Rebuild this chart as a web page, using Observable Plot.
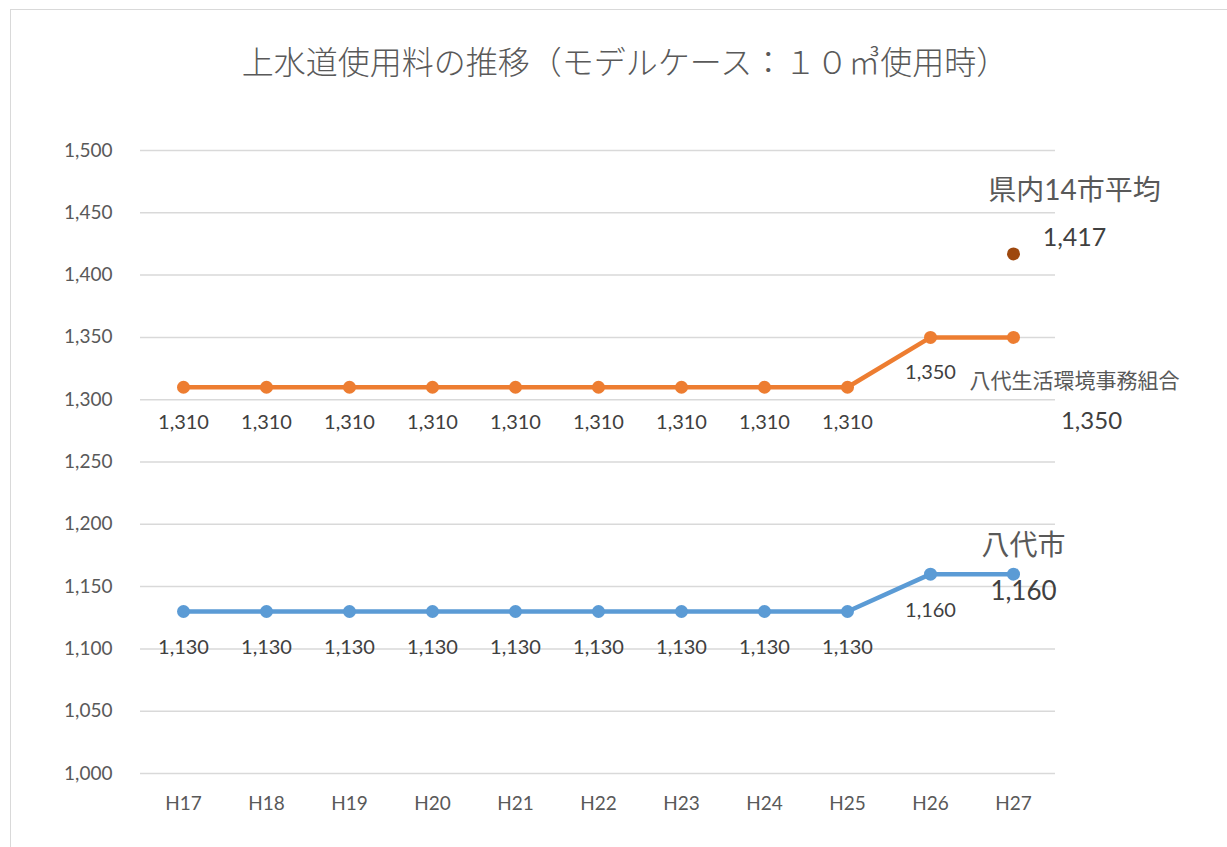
<!DOCTYPE html>
<html><head><meta charset="utf-8">
<script src="https://cdn.jsdelivr.net/npm/d3@7"></script>
<script src="https://cdn.jsdelivr.net/npm/@observablehq/plot@0.6"></script>
<style>
body{margin:0;background:#fff;font-family:Lato,"Noto Sans CJK JP",sans-serif;}
#wrap{position:relative;width:1227px;height:847px;overflow:hidden;}
#frame{position:absolute;left:10px;top:9px;width:1240px;height:860px;border:1.5px solid #d9d9d9;box-sizing:border-box;}
#title{position:absolute;top:37px;left:625px;transform:translateX(-50%);white-space:nowrap;font-size:32px;line-height:46px;color:#595959;font-family:"Noto Sans CJK JP",sans-serif;font-weight:300;}
#chart{position:absolute;left:0;top:100px;}
</style></head>
<body><div id="wrap"><div id="frame"></div><div id="title">上水道使用料の推移（モデルケース：１０㎥使用時）</div><div id="chart"></div></div>
<script>
const years = ["H17","H18","H19","H20","H21","H22","H23","H24","H25","H26","H27"];
const kumiai = [1310,1310,1310,1310,1310,1310,1310,1310,1310,1350,1350];
const city = [1130,1130,1130,1130,1130,1130,1130,1130,1130,1160,1160];
const avgYear = "H27";
const avgValue = 1417;
const yTicks = [1000,1050,1100,1150,1200,1250,1300,1350,1400,1450,1500];
const kumiaiName = "八代生活環境事務組合";
const cityName = "八代市";
const avgName = "県内14市平均";

const kData = years.map((y,i)=>({year:y,value:kumiai[i],i}));
const cData = years.map((y,i)=>({year:y,value:city[i],i}));
const last = years.length-1;
const fmt = d3.format(",");
const font = "Lato, 'Noto Sans CJK JP', sans-serif";

const plot = Plot.plot({
  width:1227, height:747,
  marginTop:50, marginBottom:74, marginLeft:140, marginRight:172,
  style:{fontFamily:font, background:"transparent", overflow:"visible"},
  x:{type:"point", domain:years, padding:0.5, label:null},
  y:{domain:[1000,1500], label:null},
  marks:[
    Plot.gridY(yTicks,{stroke:"#d9d9d9",strokeOpacity:1,strokeWidth:1.5}),
    Plot.axisY(yTicks,{tickSize:0,tickPadding:28,tickFormat:fmt,fontSize:19,fill:"#595959",label:null}),
    Plot.axisX({tickSize:0,tickPadding:23,fontSize:19,fill:"#595959",label:null}),
    Plot.line(kData,{x:"year",y:"value",stroke:"#ED7D31",strokeWidth:4.5}),
    Plot.dot(kData,{x:"year",y:"value",fill:"#ED7D31",r:6.5}),
    Plot.line(cData,{x:"year",y:"value",stroke:"#5B9BD5",strokeWidth:4.5}),
    Plot.dot(cData,{x:"year",y:"value",fill:"#5B9BD5",r:6.5}),
    Plot.dot([{year:avgYear,value:avgValue}],{x:"year",y:"value",fill:"#9E480E",r:6.5}),
    Plot.text(kData.filter(d=>d.i<last),{x:"year",y:"value",text:d=>fmt(d.value),dy:35,fontSize:20,fill:"#404040"}),
    Plot.text(cData.filter(d=>d.i<last),{x:"year",y:"value",text:d=>fmt(d.value),dy:36,fontSize:20,fill:"#404040"}),
    Plot.text(kData.filter(d=>d.i===last),{x:"year",y:"value",text:d=>fmt(d.value),dx:78,dy:84,fontSize:24,fill:"#404040"}),
    Plot.text(kData.filter(d=>d.i===last),{x:"year",y:"value",text:()=>kumiaiName,dx:61,dy:44,fontSize:21,fill:"#595959"}),
    Plot.text(cData.filter(d=>d.i===last),{x:"year",y:"value",text:d=>fmt(d.value),dx:10,dy:18,fontSize:26,fill:"#404040"}),
    Plot.text(cData.filter(d=>d.i===last),{x:"year",y:"value",text:()=>cityName,dx:10,dy:-28,fontSize:28,fill:"#595959"}),
    Plot.text([{year:avgYear,value:avgValue}],{x:"year",y:"value",text:d=>fmt(d.value),dx:61,dy:-16,fontSize:25,fill:"#404040"}),
    Plot.text([{year:avgYear,value:avgValue}],{x:"year",y:"value",text:()=>avgName,dx:61,dy:-63,fontSize:28,fill:"#595959"})
  ]
});
document.getElementById("chart").appendChild(plot);
</script>
</body></html>
